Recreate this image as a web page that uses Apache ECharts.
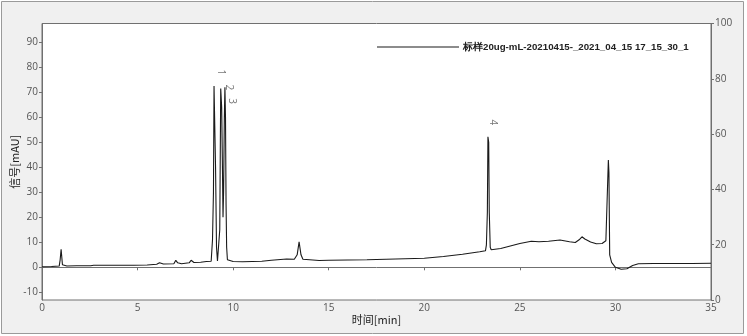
<!DOCTYPE html>
<html><head><meta charset="utf-8">
<script src="https://cdn.jsdelivr.net/npm/echarts@6/dist/echarts.min.js"></script>
<style>html,body{margin:0;padding:0;background:#fff}#c{width:747px;height:336px}</style>
</head><body><div id="c"></div>
<script>
// retention time (min)
const times = [0,0.5,0.9,0.95,1.0,1.03,1.07,1.15,1.3,1.8,1.85,1.9,2.35,2.45,2.55,2.7,4.6,4.65,4.8,5.5,6.0,6.15,6.35,6.9,7.0,7.1,7.3,7.7,7.8,7.95,8.3,8.6,8.85,8.92,8.97,9.0,9.03,9.08,9.13,9.18,9.25,9.3,9.35,9.4,9.44,9.47,9.5,9.54,9.57,9.6,9.63,9.66,9.7,9.8,10,10.5,11,11.5,12,12.8,13.2,13.35,13.45,13.55,13.65,14,14.5,15,16,17,18,19,20,21,22,22.9,23.2,23.25,23.3,23.33,23.37,23.4,23.45,23.5,24,24.5,25,25.6,26,26.5,27.1,27.6,27.9,28.1,28.25,28.4,28.7,29.0,29.3,29.5,29.6,29.63,29.66,29.7,29.8,30.0,30.3,30.6,30.9,31.2,32,33,34,35];
// signal (mAU)
const signal = [0.2,0.3,0.5,3,7.2,6.5,1,0.8,0.5,0.6,1.0,0.6,0.6,1.2,0.6,0.8,0.8,1.1,0.8,0.9,1.2,1.8,1.3,1.4,2.8,1.8,1.4,1.8,2.8,1.9,2.0,2.3,2.4,11,30,72.5,72,40,8,2.5,2.3,15,71.5,64,40,20,30,60,72,60,25,8,3,2.6,2.3,2.2,2.3,2.4,2.8,3.3,3.2,5,10.2,5,3.2,3.0,2.7,2.8,2.9,3.0,3.2,3.4,3.6,4.3,5.2,6.2,6.6,9,22,52.2,50,22,8,7,7.5,8.5,9.5,10.4,10.2,10.4,10.9,10.2,9.9,11,12.2,11.3,10.1,9.4,9.5,10.6,10.3,42.9,38,5,2,0,-0.8,-0.6,0.7,1.4,1.5,1.5,1.5,1.6];
// peak labels
const peakNames = ['1','2','3','4'];
const peakTimes = [9.37,9.79,9.94,23.6];
const peakLabelValues = [78,72,66.5,58];
const xTicks = [0,5,10,15,20,25,30,35];
const seriesName = '标样20ug-mL-20210415-_2021_04_15 17_15_30_1';

const chart = echarts.init(document.getElementById('c'), null, {renderer:'canvas'});
const font = 'Open Sans, DejaVu Sans, sans-serif';
chart.setOption({
  backgroundColor:'#ffffff',
  animation:false,
  graphic:[{type:'rect',z:-10,shape:{x:1.5,y:1.5,width:742,height:332},style:{fill:'#f0f0f0',stroke:'#9a9a9a',lineWidth:1}}],
  grid:{left:42,right:36,top:23.5,bottom:36,outerBoundsMode:'none',containLabel:false,show:true,backgroundColor:'#ffffff',borderColor:'#707070',borderWidth:1},
  legend:{data:[{name:seriesName,icon:'rect'}],left:372,top:37,itemWidth:82,itemHeight:1,itemGap:5,
    textStyle:{fontFamily:'Liberation Sans, Arial, sans-serif',fontWeight:'bold',fontSize:9.7,color:'#222',padding:[0,0,0,-1]}},
  xAxis:{type:'value',min:0,max:35,interval:5,name:'时间[min]',nameLocation:'middle',nameGap:14,nameMoveOverlap:false,
    nameTextStyle:{fontFamily:'Noto Sans CJK SC, sans-serif',fontSize:11,color:'#222'},
    axisLine:{lineStyle:{color:'#707070'}},axisTick:{length:3,lineStyle:{color:'#707070'}},
    axisLabel:{fontFamily:font,fontSize:10,color:'#555',margin:3,formatter:v=>xTicks.includes(v)?String(v):''},
    splitLine:{show:false}},
  yAxis:[{type:'value',position:'left',min:-13.08,max:97.52,splitNumber:11,name:'信号[mAU]',nameLocation:'middle',nameGap:22,nameMoveOverlap:false,
    nameTextStyle:{fontFamily:'Noto Sans CJK SC, sans-serif',fontSize:11,color:'#222'},
    axisLine:{show:true,lineStyle:{color:'#707070'}},axisTick:{show:true,length:3,lineStyle:{color:'#707070'}},
    axisLabel:{fontFamily:font,fontSize:10,color:'#555',margin:4,showMinLabel:false,showMaxLabel:false,
      formatter:v=>(Math.abs(v%10)<1e-6)?String(Math.round(v)):''},
    splitLine:{show:false}},
   {type:'value',position:'right',min:0,max:100,interval:20,
    axisLine:{show:true,lineStyle:{color:'#707070'}},axisTick:{show:true,length:3,lineStyle:{color:'#707070'}},
    axisLabel:{fontFamily:font,fontSize:10,color:'#555',margin:4},splitLine:{show:false}}],
  series:[
    {name:seriesName,type:'line',yAxisIndex:0,symbol:'none',lineStyle:{color:'#1a1a1a',width:1.1},itemStyle:{color:'#1a1a1a'},
     data:times.map((t,i)=>[t,signal[i]])},
    {type:'scatter',yAxisIndex:0,symbolSize:0,silent:true,
     label:{show:true,formatter:p=>p.data.name,rotate:-90,fontFamily:font,fontSize:10,color:'#555',position:'inside'},
     data:peakNames.map((n,i)=>({name:n,value:[peakTimes[i],peakLabelValues[i]]}))}
  ]
});
</script></body></html>
